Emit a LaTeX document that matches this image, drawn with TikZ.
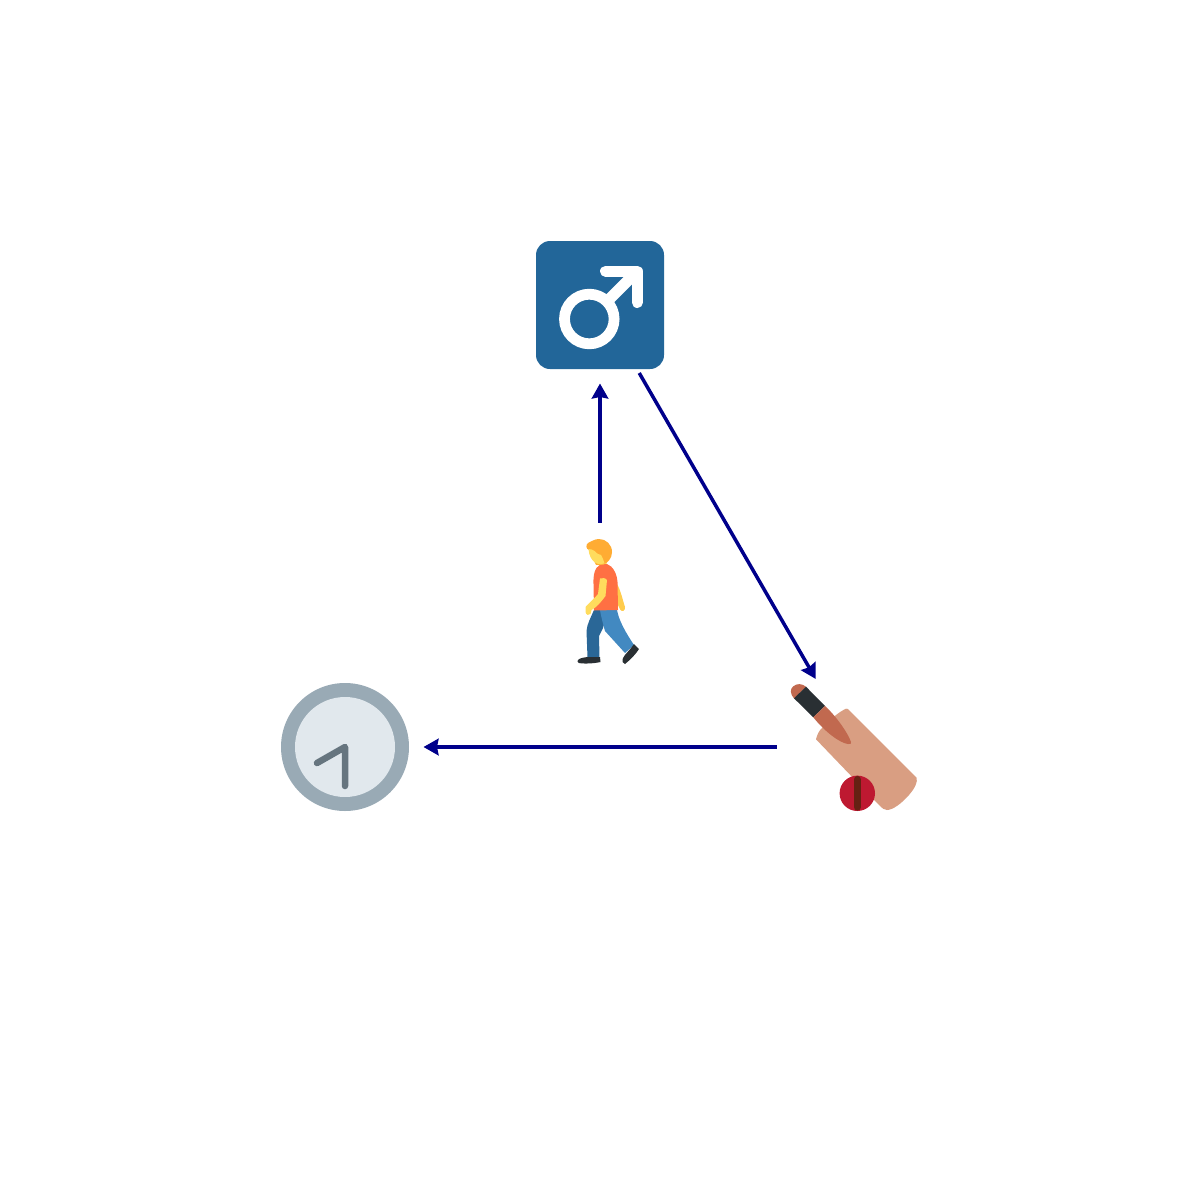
\documentclass[tikz,border=0pt]{standalone}
\usetikzlibrary{arrows.meta}
\definecolor{maleblue}{HTML}{226699}
\definecolor{arrowblue}{HTML}{00008B}
\definecolor{clockrim}{HTML}{99AAB5}
\definecolor{clockface}{HTML}{E1E8ED}
\definecolor{clockhand}{HTML}{66757F}
\definecolor{blade}{HTML}{D99E82}
\definecolor{handle}{HTML}{C1694F}
\definecolor{grip}{HTML}{292F33}
\definecolor{ballred}{HTML}{BE1931}
\definecolor{seam}{HTML}{662113}
\definecolor{hair}{HTML}{FFAC33}
\definecolor{skin}{HTML}{FFDC5D}
\definecolor{skinback}{HTML}{FFCC4D}
\definecolor{shirt}{HTML}{FF7043}
\definecolor{jeansfront}{HTML}{4289C1}
\definecolor{jeansback}{HTML}{2A6797}
\tikzset{
  iconspot/.style={circle,minimum size=157pt,inner sep=0pt,outer sep=0pt},
  link/.style={draw=arrowblue,line width=3.5pt,-{Stealth[length=15pt,width=16.5pt,inset=1.5pt]}}
}
\begin{document}
\begin{tikzpicture}[x=1pt,y=-1pt]
\useasboundingbox (0,0) rectangle (1200,1200);
% male sign
\fill[maleblue,rounded corners=14pt] (536,241) rectangle (664,369);
\draw[white,line width=10.8pt] (589.3,319) circle (24.8pt);
\draw[white,line width=11pt,line cap=round,line join=round] (605.5,271.2) -- (637.3,271.2) -- (637.3,302.5);
\draw[white,line width=11pt] (636.5,272) -- (607,301.5);
% person
\fill[skinback] (614,580) .. controls (620,586) and (622,598) .. (625,607) .. controls (625.5,611) and (622,612) .. (620.5,610) .. controls (618,605) and (615,600) .. (613,592) -- cycle;
\fill[jeansback] (594,610) -- (608,610) -- (603,628) -- (599,636) -- (599.5,657.5) -- (587.5,657.5) -- (586.5,631) .. controls (587,624) and (591,617) .. (594,610) -- cycle;
\fill[jeansfront] (600,610) -- (617,610) .. controls (619,621) and (626,633) .. (634,645) -- (625,653) -- (605,631) .. controls (603,624) and (601,616) .. (600,610) -- cycle;
\fill[skin] (597,562) -- (606,558) -- (607,566) -- (600,568) -- cycle;
\fill[shirt] (600,565) .. controls (602,564.5) and (605,564) .. (607,564) .. controls (613,566) and (617,574) .. (617.5,582) -- (618,610) -- (594,610.5) -- (593.5,584) .. controls (593,575) and (595,567) .. (600,565) -- cycle;
\fill[skin] (600,578.5) .. controls (602,577.5) and (606,578) .. (607,580) -- (605.5,596) .. controls (601,602) and (597,607) .. (591.5,610) -- (590.5,614) .. controls (589,616) and (586,615) .. (585.5,612) -- (585.5,607) .. controls (589,603) and (595,598) .. (598,594) -- cycle;
\fill[hair] (612,552) .. controls (612,544.5) and (606,539) .. (599,539) .. controls (595,539) and (592,541) .. (588,543) .. controls (585.5,545) and (586,549) .. (589,550) -- (596,565) -- (603,564.5) .. controls (608,563) and (612,558) .. (612,552) -- cycle;
\fill[skin] (588.5,549) .. controls (590,549) and (593,549.5) .. (594.5,551) .. controls (596,553) and (599,555) .. (601,555) .. controls (602,557) and (604,560) .. (604.5,563.5) .. controls (598,566) and (589.5,562) .. (588.5,549) -- cycle;
\fill[grip] (578,660) .. controls (580,657.5) and (586,657.5) .. (587,657) -- (600,657) -- (600.5,662) .. controls (594,663.5) and (584,664) .. (579,663) .. controls (577.5,662.5) and (577,661) .. (578,660) -- cycle;
\fill[grip] (634,644) -- (639,649) .. controls (636,654) and (630,660) .. (625,664) .. controls (622.5,664) and (622,661) .. (623,658) .. controls (625,654) and (630,650) .. (634,644) -- cycle;
% bat
\fill[blade] (816,739.3) .. controls (817,735) and (819,731) .. (821,729) -- (836,715) .. controls (840,712) and (843,710) .. (846,708.7) .. controls (847,708.3) and (847.5,708.5) .. (848,709) -- (916.5,777.5) .. controls (918,782) and (915,788) .. (909,795) .. controls (902,803) and (893,810) .. (887,810) .. controls (884,810) and (882,808) .. (880,806) -- cycle;
\fill[handle] (794,698.5) .. controls (790,694) and (790,689) .. (793,686.5) .. controls (797,683) and (802,683.5) .. (806,686.7) -- cycle;
\fill[grip] (794,698.3) -- (806,686.7) -- (825,706) -- (813.3,717.3) -- cycle;
\fill[handle] (813.3,717.3) -- (825,706) .. controls (836,716) and (848,733) .. (851,742) .. controls (852,744) and (850,744.5) .. (848,744) .. controls (840,743) and (825,732) .. (813.3,717.3) -- cycle;
\fill[ballred] (857.3,793.3) circle (17.7pt);
\draw[seam,line width=7.3pt,line cap=round] (857.3,779.5) -- (857.3,807);
% clock
\fill[clockrim] (345,747) circle (64pt);
\fill[clockface] (345,747) circle (50pt);
\draw[clockhand,line width=6.5pt,line cap=round,line join=round] (317,763) -- (345,747) -- (345,786);
% layout nodes and connectors
\node[iconspot] (male) at (600,305) {};
\node[iconspot] (person) at (600,601) {};
\node[iconspot] (bat) at (855,747) {};
\node[iconspot] (clock) at (345,747) {};
\draw[link] (person) -- (male);
\draw[link] (male) -- (bat);
\draw[link] (bat) -- (clock);
\end{tikzpicture}
\end{document}
